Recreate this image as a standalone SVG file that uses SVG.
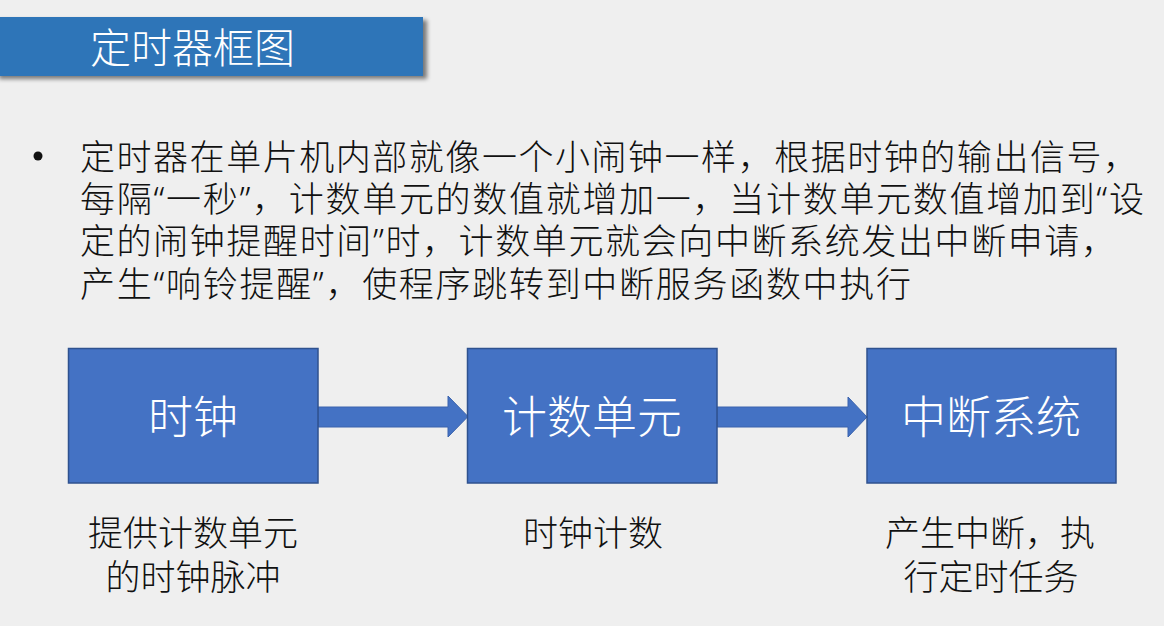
<svg xmlns="http://www.w3.org/2000/svg" width="1164" height="626" viewBox="0 0 1164 626">
  <style>
    .cjk { font-family: "Noto Sans", "Noto Sans CJK SC", sans-serif; font-weight: 300; }
    .body { font-size: 35px; fill: #111111; }
    .box { fill: #4472C4; stroke: #2F528F; stroke-width: 1.5; }
    .boxlabel { font-size: 45px; fill: #ffffff; text-anchor: middle; }
    .caption { font-size: 35px; fill: #111111; text-anchor: middle; }
    .arrow { fill: #4472C4; stroke: #3a63ad; stroke-width: 1; }
  </style>
  <defs>
    <filter id="shadow" x="-5%" y="-10%" width="115%" height="140%">
      <feGaussianBlur in="SourceAlpha" stdDeviation="2"/>
      <feOffset dx="4" dy="3" result="b"/>
      <feComponentTransfer><feFuncA type="linear" slope="0.5"/></feComponentTransfer>
      <feMerge><feMergeNode/><feMergeNode in="SourceGraphic"/></feMerge>
    </filter>
  </defs>
  <rect x="0" y="0" width="1164" height="626" fill="#efefef"/>

  <g id="title">
    <rect x="-5" y="17" width="428" height="59" fill="#2E74B8" filter="url(#shadow)"/>
    <text x="90" y="63" class="cjk" font-size="41" fill="#ffffff">定时器框图</text>
  </g>

  <g id="description">
    <circle cx="38" cy="156" r="4.5" fill="#111111"/>
    <text class="cjk body" x="80" y="170" textLength="1058" lengthAdjust="spacing">定时器在单片机内部就像一个小闹钟一样，根据时钟的输出信号，</text>
    <text class="cjk body" x="80" y="212" textLength="1064" lengthAdjust="spacing">每隔“一秒”，计数单元的数值就增加一，当计数单元数值增加到“设</text>
    <text class="cjk body" x="80" y="254" textLength="1036" lengthAdjust="spacing">定的闹钟提醒时间”时，计数单元就会向中断系统发出中断申请，</text>
    <text class="cjk body" x="80" y="297" textLength="831" lengthAdjust="spacing">产生“响铃提醒”，使程序跳转到中断服务函数中执行</text>
  </g>

  <g id="connectors">
    <polygon class="arrow" points="318,407 448,407 448,396 468,416.5 448,437 448,427 318,427"/>
    <polygon class="arrow" points="717,407 848,407 848,397 867,417 848,437 848,427 717,427"/>
  </g>

  <g id="node-clock">
    <rect class="box" x="68.5" y="348.5" width="249.5" height="134.5"/>
    <text class="cjk boxlabel" x="193" y="434">时钟</text>
    <text class="cjk caption" x="193" y="546">提供计数单元</text>
    <text class="cjk caption" x="193" y="590">的时钟脉冲</text>
  </g>

  <g id="node-counter">
    <rect class="box" x="467.5" y="348.5" width="249.5" height="134.5"/>
    <text class="cjk boxlabel" x="592" y="434">计数单元</text>
    <text class="cjk caption" x="593" y="546">时钟计数</text>
  </g>

  <g id="node-interrupt">
    <rect class="box" x="867" y="348.5" width="249" height="134.5"/>
    <text class="cjk boxlabel" x="991" y="434">中断系统</text>
    <text class="cjk caption" x="990" y="546">产生中断，执</text>
    <text class="cjk caption" x="991" y="590">行定时任务</text>
  </g>
</svg>
